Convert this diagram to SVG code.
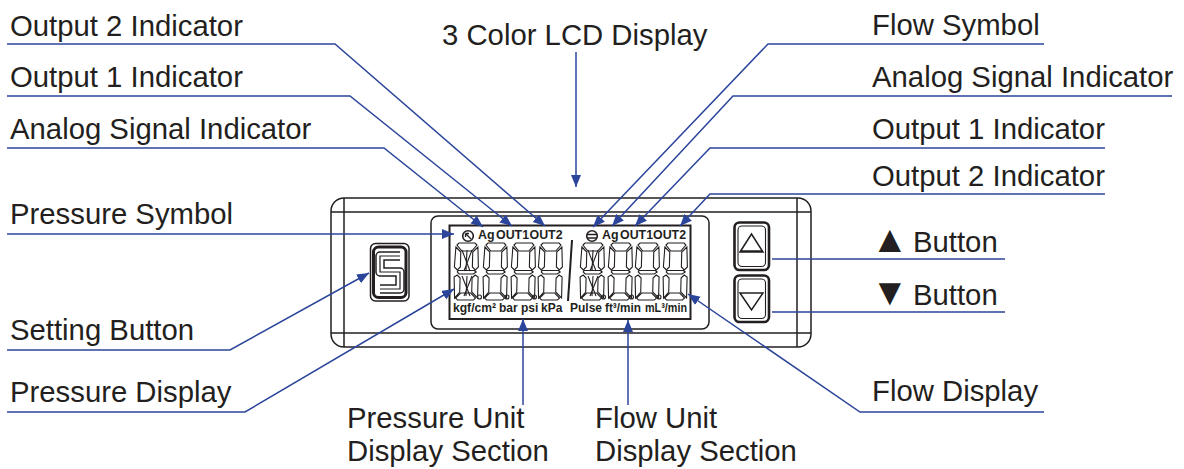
<svg xmlns="http://www.w3.org/2000/svg" width="1184" height="469" viewBox="0 0 1184 469">
<style>
text{font-family:"Liberation Sans",Arial,sans-serif;fill:#231f20}
.l{font-size:29.3px}
.g{font-size:38px}
.s{font-size:12.4px;font-weight:bold}
.u{font-size:12px;font-weight:bold}
.c path,.c polyline{fill:none;stroke:#2b459b;stroke-width:1.5}
.d{fill:none;stroke:#231f20;stroke-width:1.5}
.t{fill:none;stroke:#231f20;stroke-width:1.1}
</style>
<defs>
<marker id="a" markerUnits="userSpaceOnUse" markerWidth="14" markerHeight="12" refX="12" refY="5" orient="auto"><path d="M0 0L12 5L0 10z" fill="#2b459b"/></marker>
<g id="seg" class="t" transform="skewX(-1.5)"><path d="M4 0H20L22 2L17 8H7L2 2zM1 4L6 9V24L3 27L0 24zM23 4L24 24L21 27L18 24V9zM4 27.500H20L22 29L19 31H5L3 29zM0 34L3 32L6 35V49L1 55zM21 32L24 34V55L18 49V35zM7 50H17L22 55L20 57H4L2 55z"/></g>
</defs>
<g id="device">
<rect class="d" x="331" y="198" width="480" height="149" rx="13"/>
<path class="d" d="M331 212H811M331 333H811M344 198V347M797 198V347"/>
<rect class="d" x="431" y="216" width="278" height="113" rx="7"/>
<rect x="449.500" y="225.500" width="241" height="93.500" fill="none" stroke="#231f20" stroke-width="2"/>
<path d="M572 240L568 301" stroke="#231f20" stroke-width="2" fill="none"/>
</g>
<g id="pressure-display">
<use href="#seg" x="455" y="243"/><use href="#seg" x="484" y="243"/><use href="#seg" x="512" y="243"/><use href="#seg" x="539" y="243"/>
<path class="t" d="M462 250L470 271M472 250L464 271M467 250L466 271M462 276L470 296M472 276L464 296M467 276L466 296"/>
<circle class="t" cx="479.500" cy="297" r="2"/><circle class="t" cx="507" cy="297" r="2"/><circle class="t" cx="534.500" cy="297" r="2"/>
</g>
<g id="flow-display">
<use href="#seg" x="581" y="243"/><use href="#seg" x="609" y="243"/><use href="#seg" x="636" y="243"/><use href="#seg" x="664" y="243"/>
<path class="t" d="M588 250L596 271M598 250L590 271M593 250L592 271M588 276L596 296M598 276L590 296M593 276L592 296"/>
<circle class="t" cx="603.500" cy="297" r="2"/><circle class="t" cx="631.500" cy="297" r="2"/><circle class="t" cx="659" cy="297" r="2"/>
</g>
<g id="indicators">
<circle cx="468" cy="236" r="5.300" fill="none" stroke="#231f20" stroke-width="1.600"/><path d="M465.500 233.500L471 239M465.500 233.500h3.500M465.500 233.500v3.500" stroke="#231f20" stroke-width="1.300" fill="none"/>
<text class="s" x="478" y="239">Ag</text><text class="s" x="496" y="239">OUT1</text><text class="s" x="529.500" y="239">OUT2</text>
<circle cx="592" cy="236" r="5.300" fill="none" stroke="#231f20" stroke-width="1.600"/><path d="M587 234.500H597M587 238H597" stroke="#231f20" stroke-width="1.300"/>
<text class="s" x="602" y="239">Ag</text><text class="s" x="620" y="239">OUT1</text><text class="s" x="653" y="239">OUT2</text>
</g>
<g id="units">
<text class="u" x="453" y="312" textLength="43" lengthAdjust="spacingAndGlyphs">kgf/cm²</text><text class="u" x="499" y="312">bar</text><text class="u" x="521" y="312">psi</text><text class="u" x="541" y="312">kPa</text>
<text class="u" x="570" y="312">Pulse</text><text class="u" x="605" y="312" textLength="36" lengthAdjust="spacingAndGlyphs">ft³/min</text><text class="u" x="645" y="312" textLength="42" lengthAdjust="spacingAndGlyphs">mL³/min</text>
</g>
<g id="setting-button">
<rect x="370.500" y="243.500" width="38.500" height="57.500" rx="5" fill="none" stroke="#231f20" stroke-width="1.500"/>
<rect x="373.500" y="247" width="32.500" height="50.500" rx="5" fill="none" stroke="#231f20" stroke-width="3"/>
<path d="M400 256H380V272H400V289H380" fill="none" stroke="#231f20" stroke-width="9.500" stroke-linejoin="round"/>
<path d="M400 256H380V272H400V289H380" fill="none" stroke="#fff" stroke-width="6.500" stroke-linejoin="round"/>
<path d="M400 256H380V272H400V289H380" fill="none" stroke="#231f20" stroke-width="1.200"/>
</g>
<g id="up-button"><rect x="734.500" y="222.500" width="34.500" height="47.500" rx="5" fill="none" stroke="#231f20" stroke-width="2.600"/><rect class="t" x="738" y="226" width="27.500" height="40.500" rx="4"/><path d="M740 252L751.500 234L763 252zM740 251H763" fill="none" stroke="#231f20" stroke-width="1.500"/></g>
<g id="down-button"><rect x="734.500" y="275.500" width="34.500" height="46.500" rx="5" fill="none" stroke="#231f20" stroke-width="2.600"/><rect class="t" x="738" y="279" width="27.500" height="39.500" rx="4"/><path d="M740 293L751.500 310L763 293z" fill="none" stroke="#231f20" stroke-width="1.500"/></g>
<g class="c" id="connectors">
<path d="M576 52V187" marker-end="url(#a)"/>
<polyline points="7,44 335,44 545,226" marker-end="url(#a)"/>
<polyline points="7,96 350,96 512,226" marker-end="url(#a)"/>
<polyline points="7,148 384,148 483,227" marker-end="url(#a)"/>
<polyline points="7,234 454,234" marker-end="url(#a)"/>
<polyline points="7,350 230,350 369,273" marker-end="url(#a)"/>
<polyline points="7,412 245,412 454,289" marker-end="url(#a)"/>
<polyline points="523,405 523,319" marker-end="url(#a)"/>
<polyline points="628,405 628,320" marker-end="url(#a)"/>
<polyline points="1044,412 860,412 688,294" marker-end="url(#a)"/>
<polyline points="1044,44 768,44 593,227" marker-end="url(#a)"/>
<polyline points="1172,96 733,96 612,226" marker-end="url(#a)"/>
<polyline points="1105,148 710,148 635,226" marker-end="url(#a)"/>
<polyline points="1105,194 710,194 680,226" marker-end="url(#a)"/>
<path d="M772 259H1005M772 312H1005"/>
</g>
<g id="labels">
<text class="l" x="10" y="36">Output 2 Indicator</text>
<text class="l" x="10" y="87">Output 1 Indicator</text>
<text class="l" x="10" y="139">Analog Signal Indicator</text>
<text class="l" x="10" y="224">Pressure Symbol</text>
<text class="l" x="10" y="340">Setting Button</text>
<text class="l" x="10" y="402">Pressure Display</text>
<text class="l" x="442" y="45">3 Color LCD Display</text>
<text class="l" x="872" y="35">Flow Symbol</text>
<text class="l" x="872" y="87">Analog Signal Indicator</text>
<text class="l" x="872" y="139">Output 1 Indicator</text>
<text class="l" x="872" y="186">Output 2 Indicator</text>
<text class="l" y="252"><tspan class="g" x="871">▲</tspan><tspan x="913">Button</tspan></text>
<text class="l" y="305"><tspan class="g" x="871">▼</tspan><tspan x="913">Button</tspan></text>
<text class="l" x="872" y="401">Flow Display</text>
<text class="l" x="347" y="428">Pressure Unit</text>
<text class="l" x="347" y="461">Display Section</text>
<text class="l" x="595" y="428">Flow Unit</text>
<text class="l" x="595" y="461">Display Section</text>
</g>
</svg>
